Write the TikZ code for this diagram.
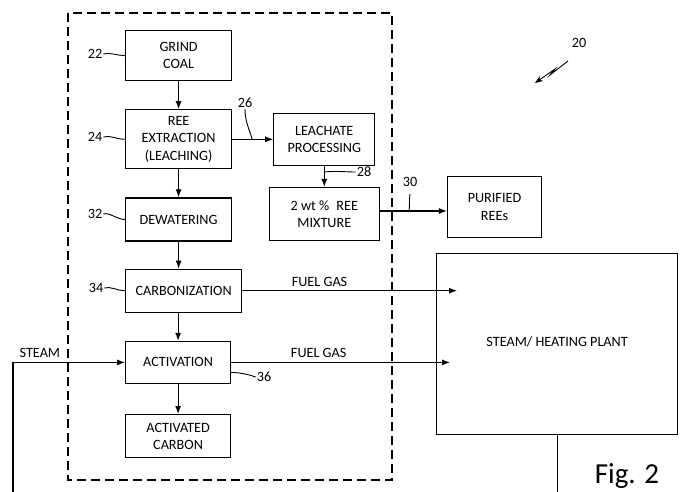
\documentclass[tikz,border=0pt]{standalone}
\usepackage{fontspec}
\setmainfont{Carlito}
\usetikzlibrary{positioning,arrows.meta}

\begin{document}
\begin{tikzpicture}[x=1pt, y=-1pt,
    every node/.style={font=\fontsize{14.2}{17.3}\selectfont},
    proc/.style={draw, line width=1.2pt, minimum width=106pt,
        align=center, inner sep=2pt},
    flow/.style={-{Latex[length=8pt, width=6pt]}, line width=1.1pt},
    lead/.style={line width=0.9pt},
    refnum/.style={inner sep=1pt},
    gaslbl/.style={above=3pt, inner sep=1pt},
]
\useasboundingbox (0,0) rectangle (685,492);

% Dashed frame round the carbon line
\draw[line width=1.1pt, dash pattern=on 9pt off 5pt] (68,13) rectangle (392,480);

% Main column
\node[proc, minimum height=50pt, anchor=north west] (grind) at (125,30) {GRIND\\COAL};
\node[proc, minimum height=59pt, below=28pt of grind] (reex) {REE\\EXTRACTION\\(LEACHING)};
\node[proc, minimum height=43pt, below=28pt of reex] (dewater) {DEWATERING};
\node[proc, minimum width=116pt, minimum height=43pt,
    below right=27pt and 0pt of dewater.south west] (carbon) {CARBONIZATION};
\node[proc, minimum width=105pt, minimum height=42pt,
    below right=28pt and 0pt of carbon.south west] (activ) {ACTIVATION};
\node[proc, minimum width=105pt, minimum height=43pt, below=30pt of activ] (actcarbon) {ACTIVATED\\CARBON};

% Leachate branch
\node[proc, minimum width=101pt, minimum height=52pt, right=41pt of reex] (leach) {LEACHATE\\PROCESSING};
\node[proc, minimum width=110pt, minimum height=53pt, below=21pt of leach] (mix) {2 wt \%\enspace REE\\MIXTURE};
\node[proc, minimum width=94pt, minimum height=61pt, right=67pt of mix, yshift=7pt] (purified) {PURIFIED\\REEs};

% Plant
\node[proc, minimum width=241pt, minimum height=181pt, anchor=north west] (plant) at (436,253)
    {\raisebox{6pt}{STEAM/ HEATING PLANT}};

% Flows
\draw[flow] (grind) -- (reex);
\draw[flow] (reex) -- (dewater);
\draw[flow] (dewater.south) -- (dewater.south |- carbon.north);
\draw[flow] (carbon.south -| activ.north) -- (activ.north);
\draw[flow] (activ) -- (actcarbon);
\draw[flow] (reex.east) -- (leach.west);
\draw[flow] (leach) -- (mix);
\draw[flow] ([yshift=3pt]mix.east) -- ([yshift=3pt]mix.east -| purified.west);

\coordinate (fuelin1) at ([xshift=21pt]plant.west |- carbon.east);
\coordinate (fuelin2) at ([xshift=14pt]plant.west |- activ.east);
\draw[flow] (carbon.east) -- node[gaslbl, pos=0.36] {FUEL GAS} (fuelin1);
\draw[flow] (activ.east) -- node[gaslbl, pos=0.4] {FUEL GAS} (fuelin2);

% Steam return loop (runs below the page edge)
\coordinate (loopbot) at (13,505);
\draw[flow] (plant.south) |- (loopbot) |- node[gaslbl, pos=0.62] {STEAM} (activ.west);

% Reference numerals
\node[refnum] (n22) at (95,54) {22};
\node[refnum] (n24) at (95,137) {24};
\node[refnum] (n32) at (95,214) {32};
\node[refnum] (n34) at (96,288) {34};
\node[refnum] (n26) at (245,103) {26};
\node[refnum] (n28) at (364,172) {28};
\node[refnum] (n30) at (410,182) {30};
\node[refnum] (n36) at (264,377) {36};
\node[refnum] (n20) at (579,43) {20};

\draw[lead] (n22.east) .. controls +(6,-2) and +(-8,0) .. (grind.west);
\draw[lead] (n24.east) .. controls +(6,-2) and +(-8,0) .. (reex.west);
\draw[lead] (n32.east) .. controls +(6,-2) and +(-8,0) .. (dewater.west);
\draw[lead] (n34.east) .. controls +(6,-2) and +(-8,0) .. (carbon.west);

\coordinate (p26) at ([xshift=20pt]reex.east);
\coordinate (p28) at ([yshift=-6pt]leach.south);
\coordinate (p30) at ([xshift=29pt, yshift=3pt]mix.east);
\coordinate (p30top) at ([yshift=-6pt]n30.south);
\coordinate (p36) at ([yshift=-10pt]activ.east);
\draw[lead] (n26.south) .. controls +(0,12) and +(-3,-10) .. (p26);
\draw[lead] (p28) .. controls +(14,-1) and +(-10,0) .. (n28.west);
\draw[lead] (p30top) .. controls +(-1,5) and +(1,-3) .. (p30);
\draw[lead] (p36) .. controls +(6,0) and +(-8,-3) .. (n36.west);

% Figure pointer
\draw[lead, -{Stealth[length=8pt, width=6pt]}] (568,61) -- (550,75) -- (555,69) -- (535,83);

\node (figlbl) at (627,476) {\fontsize{29}{34}\selectfont Fig. 2};
\end{tikzpicture}
\end{document}
